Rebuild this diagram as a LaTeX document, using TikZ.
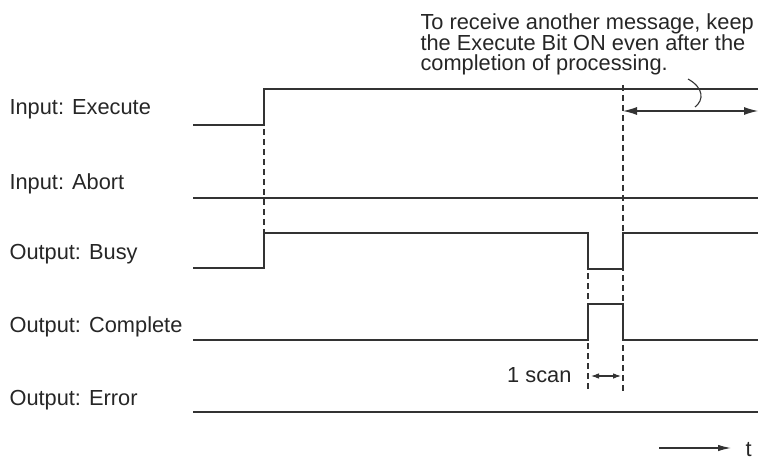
\documentclass[tikz,border=0pt]{standalone}
\usepackage{fontspec}
\setmainfont{Liberation Sans}
\usetikzlibrary{arrows.meta}

\begin{document}
\begin{tikzpicture}[x=0.5pt,y=-0.5pt,line width=0.55pt,
    sig/.style={draw=black!80},
    guide/.style={draw=black!80,line width=0.7pt,dash pattern=on 3pt off 2pt},
    lbl/.style={anchor=base west,inner sep=0pt,text=black!85,
      font=\fontsize{10.9}{10.25}\selectfont},
    bigtip/.style={{Latex[length=7pt,width=4pt]}-{Latex[length=7pt,width=4pt]}},
    smalltip/.style={{Latex[length=4pt,width=2.8pt]}-{Latex[length=4pt,width=2.8pt]}}]
    \useasboundingbox (0,0) rectangle (758,459);
    \def\xa{193} \def\xb{264} \def\xc{588} \def\xd{623} \def\xe{758} % Thoi diem
    % Nhan tin hieu
    \node[lbl] (lexec) at (9,115) {Input: Execute};
    \node[lbl] (labort) at (9,190) {Input: Abort};
    \node[lbl] (lbusy) at (9,259) {Output: Busy};
    \node[lbl] (ldone) at (9,332) {Output: Complete};
    \node[lbl] (lerr) at (9,405) {Output: Error};
    \node[lbl,align=left] (note) at (420,71) {To receive another message, keep\\the Execute Bit ON even after the\\completion of processing.};
    % Duong tin hieu
    \draw[sig] (\xa,125)--(\xb,125)--(\xb,89)--(\xe,89);
    \draw[sig] (\xa,198)--(\xe,198);
    \draw[sig] (\xa,268)--(\xb,268)--(\xb,233)--(\xc,233)--(\xc,269)--(\xd,269)--(\xd,233)--(\xe,233);
    \draw[sig] (\xa,340)--(\xc,340)--(\xc,304)--(\xd,304)--(\xd,340)--(\xe,340);
    \draw[sig] (\xa,412)--(\xe,412);
    % Duong gach
    \draw[guide] (\xb,89)--(\xb,233);
    \draw[guide] (\xc,233)--(\xc,392);
    \draw[guide] (\xd,85)--(\xd,392);
    % Mui ten
    \coordinate (keepL) at (\xd,111); \coordinate (keepR) at (\xe,111);
    \draw[sig,bigtip] (keepL)--(keepR);
    \draw[sig] (688,79) .. controls (704,88) and (704,100) .. (695,107);
    \coordinate (scanL) at (\xc,376); \coordinate (scanR) at (\xd,376);
    \draw[sig,smalltip,shorten <=1.5pt,shorten >=1pt] (scanL)--(scanR);
    \node[lbl,anchor=base east] (lscan) at (572,382) {1 scan};
    \node[lbl] (ltime) at (745,456) {t};
    \coordinate (tfrom) at (659,448); \coordinate (tto) at (731,448);
    \draw[sig,-{Latex[length=6.5pt,width=3.2pt]}] (tfrom)--(tto);
\end{tikzpicture}
\end{document}
